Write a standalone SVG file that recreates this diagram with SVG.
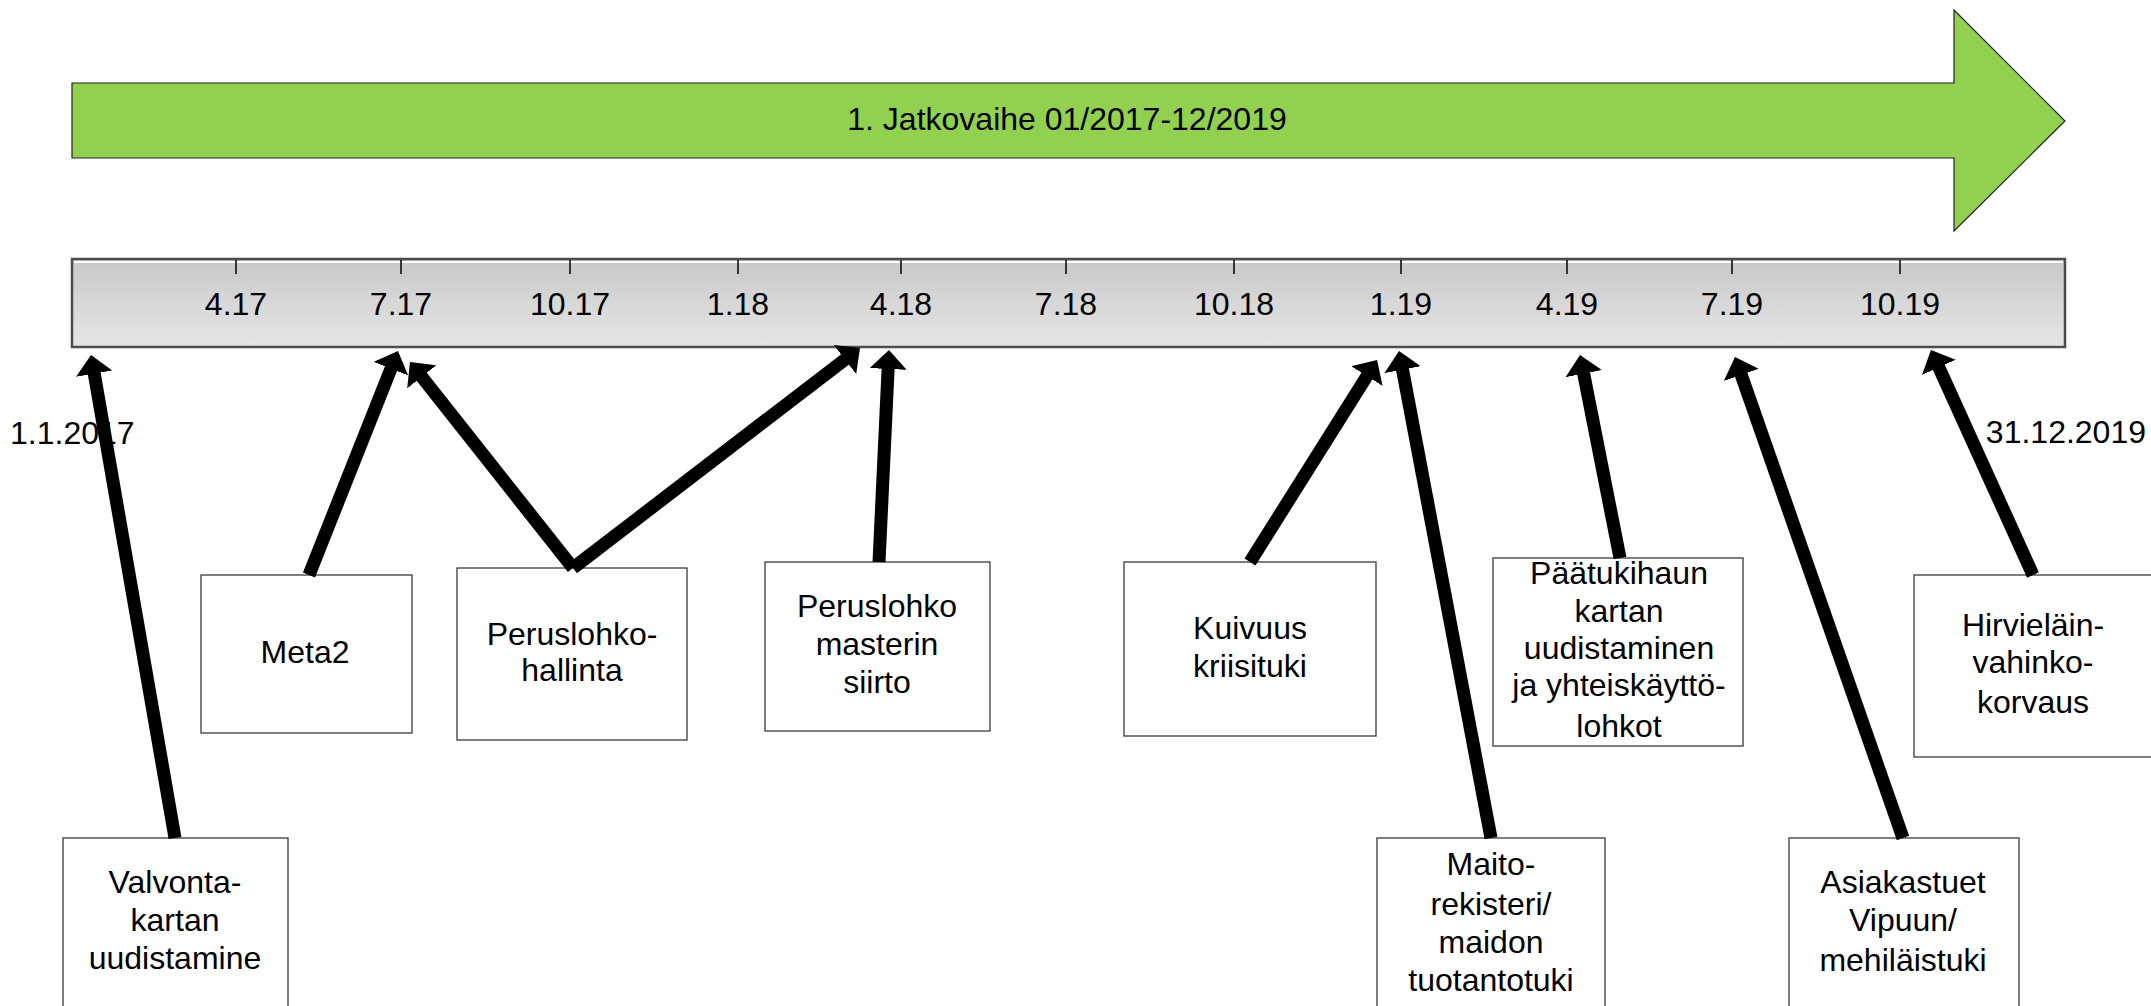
<svg xmlns="http://www.w3.org/2000/svg" width="2151" height="1006" viewBox="0 0 2151 1006">
<style>
text{font-family:"Liberation Sans",Arial,sans-serif;font-size:32px;fill:#000}
.c{text-anchor:middle}
.box{fill:#fff;stroke:#3a3a3a;stroke-width:1.3}
.tick{stroke:#000;stroke-width:1.5}
.conn line{stroke:#000;stroke-width:13;stroke-linecap:butt;marker-end:url(#ah)}
</style>
<defs>
<linearGradient id="bar" x1="0" y1="0" x2="0" y2="1">
<stop offset="0" stop-color="#c8c8c8"/>
<stop offset="1" stop-color="#e6e6e6"/>
</linearGradient>
<marker id="ah" markerUnits="userSpaceOnUse" viewBox="0 0 19 37" markerWidth="19" markerHeight="37" refX="2" refY="18.5" orient="auto">
<path d="M0,0 L19,18.5 L0,37 z" fill="#000"/>
</marker>
</defs>
<g id="phase-arrow">
<polygon points="72,83 1954,83 1954,10 2065,121 1954,231 1954,158 72,158" fill="#92d050" stroke="#222" stroke-width="1.2"/>
<text class="c" x="1067" y="130">1. Jatkovaihe 01/2017-12/2019</text>
</g>
<g id="timeline">
<rect x="72" y="259" width="1993" height="88" fill="url(#bar)" stroke="#4d4d4d" stroke-width="2.5"/>
<line x1="74" y1="262" x2="2063" y2="262" stroke="#fff" stroke-width="2"/>
<g class="tick">
<line x1="236" y1="260" x2="236" y2="274"/>
<line x1="401" y1="260" x2="401" y2="274"/>
<line x1="570" y1="260" x2="570" y2="274"/>
<line x1="738" y1="260" x2="738" y2="274"/>
<line x1="901" y1="260" x2="901" y2="274"/>
<line x1="1066" y1="260" x2="1066" y2="274"/>
<line x1="1234" y1="260" x2="1234" y2="274"/>
<line x1="1401" y1="260" x2="1401" y2="274"/>
<line x1="1567" y1="260" x2="1567" y2="274"/>
<line x1="1732" y1="260" x2="1732" y2="274"/>
<line x1="1900" y1="260" x2="1900" y2="274"/>
</g>
<text class="c" x="236" y="315">4.17</text>
<text class="c" x="401" y="315">7.17</text>
<text class="c" x="570" y="315">10.17</text>
<text class="c" x="738" y="315">1.18</text>
<text class="c" x="901" y="315">4.18</text>
<text class="c" x="1066" y="315">7.18</text>
<text class="c" x="1234" y="315">10.18</text>
<text class="c" x="1401" y="315">1.19</text>
<text class="c" x="1567" y="315">4.19</text>
<text class="c" x="1732" y="315">7.19</text>
<text class="c" x="1900" y="315">10.19</text>
</g>
<g id="dates">
<text x="10" y="444">1.1.2017</text>
<text x="2146" y="443" text-anchor="end">31.12.2019</text>
</g>
<g id="valvonta">
<rect class="box" x="63" y="838" width="225" height="180"/>
<text class="c" x="175" y="893">Valvonta-</text>
<text class="c" x="175" y="931">kartan</text>
<text class="c" x="175" y="969">uudistamine</text>
</g>
<g id="meta2">
<rect class="box" x="201" y="575" width="211" height="158"/>
<text class="c" x="305" y="663">Meta2</text>
</g>
<g id="peruslohkohallinta">
<rect class="box" x="457" y="568" width="230" height="172"/>
<text class="c" x="572" y="645">Peruslohko-</text>
<text class="c" x="572" y="681">hallinta</text>
</g>
<g id="peruslohkomaster">
<rect class="box" x="765" y="562" width="225" height="169"/>
<text class="c" x="877" y="617">Peruslohko</text>
<text class="c" x="877" y="655">masterin</text>
<text class="c" x="877" y="693">siirto</text>
</g>
<g id="kuivuus">
<rect class="box" x="1124" y="562" width="252" height="174"/>
<text class="c" x="1250" y="639">Kuivuus</text>
<text class="c" x="1250" y="677">kriisituki</text>
</g>
<g id="maito">
<rect class="box" x="1377" y="838" width="228" height="180"/>
<text class="c" x="1491" y="875">Maito-</text>
<text class="c" x="1491" y="915">rekisteri/</text>
<text class="c" x="1491" y="953">maidon</text>
<text class="c" x="1491" y="991">tuotantotuki</text>
</g>
<g id="paatukihaun">
<rect class="box" x="1493" y="558" width="250" height="188"/>
<text class="c" x="1619" y="584">Päätukihaun</text>
<text class="c" x="1619" y="622">kartan</text>
<text class="c" x="1619" y="659">uudistaminen</text>
<text class="c" x="1619" y="696">ja yhteiskäyttö-</text>
<text class="c" x="1619" y="737">lohkot</text>
</g>
<g id="asiakastuet">
<rect class="box" x="1789" y="838" width="230" height="180"/>
<text class="c" x="1903" y="893">Asiakastuet</text>
<text class="c" x="1903" y="931">Vipuun/</text>
<text class="c" x="1903" y="971">mehiläistuki</text>
</g>
<g id="hirvielain">
<rect class="box" x="1914" y="575" width="250" height="182"/>
<text class="c" x="2033" y="636">Hirvieläin-</text>
<text class="c" x="2033" y="673">vahinko-</text>
<text class="c" x="2033" y="713">korvaus</text>
</g>
<g id="connectors" class="conn">
<line x1="175" y1="838" x2="93.9" y2="371.7"/>
<line x1="309" y1="575" x2="391.7" y2="366.8"/>
<line x1="573" y1="568" x2="420.5" y2="375.3"/>
<line x1="573" y1="568" x2="846.5" y2="358.3"/>
<line x1="879" y1="562" x2="888.2" y2="367"/>
<line x1="1250" y1="562" x2="1368" y2="374.4"/>
<line x1="1491" y1="838" x2="1402.2" y2="367.7"/>
<line x1="1620" y1="558" x2="1583.3" y2="371.7"/>
<line x1="1903" y1="838" x2="1740.6" y2="373"/>
<line x1="2033" y1="575" x2="1938" y2="365.5"/>
</g>
</svg>
